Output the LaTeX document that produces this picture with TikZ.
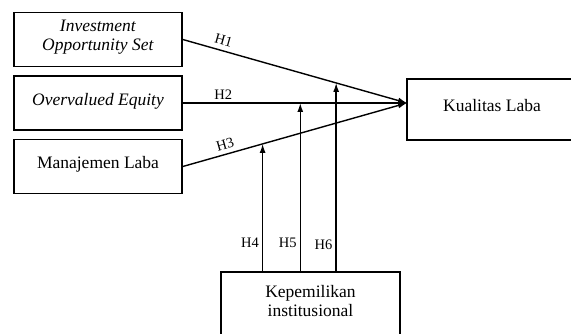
\documentclass[tikz,border=0pt]{standalone}
\usepackage{fontspec}
\setmainfont{Liberation Serif}
\usetikzlibrary{arrows.meta,calc}

\begin{document}
\begin{tikzpicture}[
        x=1pt, y=-1pt,
        var/.style={rectangle, draw, line width=1.6pt, minimum width=168pt, minimum height=54pt, align=center, inner sep=2pt, text depth=8pt, font=\fontsize{17.5}{19}\selectfont},
        path_arr/.style={line width=1.4pt, -{Latex[length=9pt,width=6pt]}},
        hyp/.style={font=\fontsize{14.5}{16}\selectfont, inner sep=3pt}
    ]

        \useasboundingbox (0,0) rectangle (571,334);
        \clip (0,0) rectangle (571,334);

        % independent variables
        \node[var] (ios) at (98,39.5) {\textit{Investment}\\\textit{Opportunity Set}};
        \node[var] (ove) at (98,103) {\textit{Overvalued Equity}};
        \node[var] (mnj) at (98,166.5) {Manajemen Laba};

        % dependent and moderating variables
        \node[var, minimum width=170pt, minimum height=61pt, text depth=9pt] (kua) at (492,109.5) {Kualitas Laba};
        \node[var, minimum width=179pt, minimum height=66pt] (kep) at (310.5,305) {Kepemilikan\\institusional};

        \coordinate (tgt) at (407,103);

        % direct paths
        \draw[path_arr] (ios.east) -- node[hyp, pos=0.17, above, sloped, inner sep=4.5pt] {H1} (tgt);
        \draw[path_arr] (ove.east) -- node[hyp, pos=0.18, above] {H2} (tgt);
        \draw[path_arr] (mnj.east) -- node[hyp, pos=0.2, above, sloped, inner sep=4pt] {H3} (tgt);

        % moderating paths
        \coordinate (h4) at ($(mnj.east)!0.356!(tgt)$);
        \coordinate (h5) at ($(ove.east)!0.524!(tgt)$);
        \coordinate (h6) at ($(ios.east)!0.684!(tgt)$);
        \draw[path_arr] (kep.north -| h4) -- node[hyp, pos=0.22, left] {H4} (h4);
        \draw[path_arr] (kep.north -| h5) -- node[hyp, pos=0.17, left] {H5} (h5);
        \draw[path_arr] (kep.north -| h6) -- node[hyp, pos=0.14, left] {H6} (h6);

    \end{tikzpicture}
\end{document}
